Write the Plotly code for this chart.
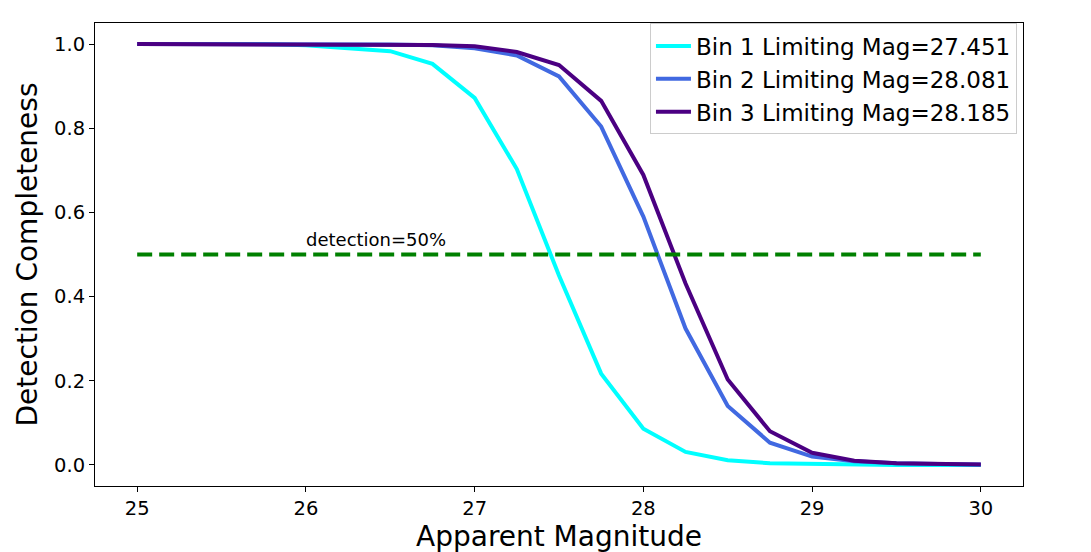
import plotly.graph_objects as go

mags = [25.0, 25.25, 25.5, 25.75, 26.0, 26.25, 26.5, 26.75, 27.0, 27.25, 27.5,
        27.75, 28.0, 28.25, 28.5, 28.75, 29.0, 29.25, 29.5, 29.75, 30.0]

bin1 = [1.0, 1.0, 1.0, 1.0, 0.997, 0.991, 0.983, 0.953, 0.872, 0.703, 0.45,
        0.217, 0.086, 0.031, 0.011, 0.004, 0.002, 0.001, 0.0, 0.0, 0.0]
bin2 = [1.0, 1.0, 1.0, 1.0, 1.0, 0.999, 0.999, 0.997, 0.99, 0.973, 0.923,
        0.804, 0.59, 0.324, 0.14, 0.053, 0.02, 0.009, 0.004, 0.002, 0.001]
bin3 = [1.0, 1.0, 1.0, 1.0, 1.0, 1.0, 0.999, 0.998, 0.995, 0.981, 0.95,
        0.865, 0.689, 0.431, 0.203, 0.08, 0.029, 0.01, 0.004, 0.002, 0.001]

names = ["Bin 1 Limiting Mag=27.451", "Bin 2 Limiting Mag=28.081", "Bin 3 Limiting Mag=28.185"]
colors = ["#00FFFF", "#4169E1", "#4B0082"]

threshold_x = [25, 30]
threshold_y = [0.5, 0.5]
threshold_label = "detection=50%"

FONT = "DejaVu Sans"

fig = go.Figure()
for ys, nm, c in zip([bin1, bin2, bin3], names, colors):
    fig.add_trace(go.Scatter(x=mags, y=ys, mode="lines", name=nm,
                             line=dict(color=c, width=4)))

fig.add_trace(go.Scatter(x=threshold_x, y=threshold_y, mode="lines", showlegend=False,
                         line=dict(color="green", width=4, dash="15px,7px")))

fig.add_annotation(x=26.0, y=0.505, text=threshold_label, showarrow=False,
                   xanchor="left", yanchor="bottom", xshift=-2,
                   font=dict(family=FONT, size=18, color="black"))

axis_common = dict(showline=True, linecolor="black", linewidth=1, mirror=True,
                   ticks="outside", ticklen=5, tickcolor="black", showgrid=False,
                   zeroline=False, tickfont=dict(family=FONT, size=19.5, color="black"))

fig.update_layout(
    width=1091, height=552,
    margin=dict(l=87, r=76, t=15, b=74),
    paper_bgcolor="white", plot_bgcolor="white",
    font=dict(family=FONT, color="black"),
    xaxis=dict(range=[24.75, 30.25], tickvals=[25, 26, 27, 28, 29, 30],
               title=dict(text="Apparent Magnitude", font=dict(family=FONT, size=28), standoff=6),
               **axis_common),
    yaxis=dict(range=[-0.05, 1.05], tickvals=[0, 0.2, 0.4, 0.6, 0.8, 1.0],
               tickformat=".1f",
               title=dict(text="Detection Completeness", font=dict(family=FONT, size=28), standoff=8),
               **axis_common),
    legend=dict(x=0.9935, y=0.999, xanchor="right", yanchor="top",
                bgcolor="rgba(255,255,255,0.8)", bordercolor="#cccccc", borderwidth=1,
                font=dict(family=FONT, size=23), tracegroupgap=0, itemwidth=35),
)

fig.write_html("out.html")
